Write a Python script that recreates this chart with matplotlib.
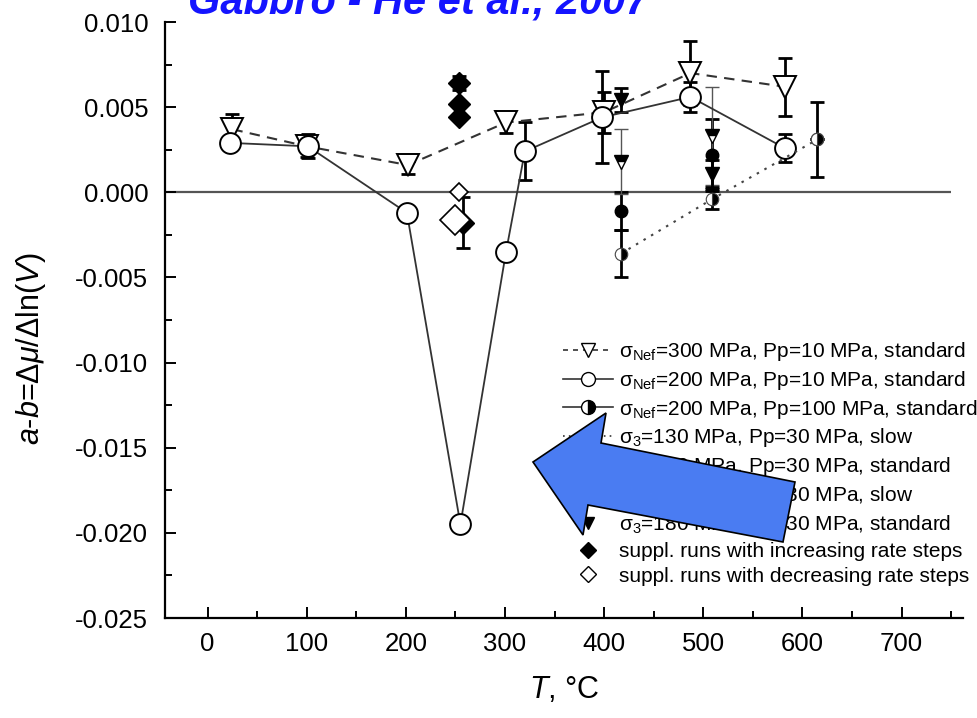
import matplotlib
matplotlib.use('Agg')
import matplotlib.pyplot as plt
from matplotlib.lines import Line2D
from matplotlib.patches import Polygon
from matplotlib.ticker import MultipleLocator, FuncFormatter

plt.rcParams['font.family'] = ['Liberation Sans', 'DejaVu Sans']
plt.rcParams['mathtext.fontset'] = 'custom'
plt.rcParams['mathtext.rm'] = 'Liberation Sans'
plt.rcParams['mathtext.it'] = 'Liberation Sans:italic'
plt.rcParams['mathtext.bf'] = 'Liberation Sans:bold'

# ---------------- data ----------------
T_300 = [25, 100, 202, 301, 400, 487, 582]
ab_300 = [0.0037, 0.0027, 0.0016, 0.0041, 0.0047, 0.0070, 0.0062]
err_300 = [0.0009, 0.0006, 0.0005, 0.0006, 0.0012, 0.0019, 0.0017]

T_200 = [23, 101, 201, 255, 301, 320, 398, 487, 582]
ab_200 = [0.0029, 0.0027, -0.0012, -0.0195, -0.0035, 0.0024, 0.0044, 0.0056, 0.0026]
err_200 = [0.0, 0.0007, 0.0003, 0.0, 0.0, 0.0017, 0.0027, 0.0009, 0.0008]

T_200pp100 = [615]
ab_200pp100 = [0.0031]
err_200pp100 = [0.0022]

T_130slow = [417, 509, 615]
ab_130slow = [-0.0036, -0.0004, 0.0031]
err_130slow = [0.0014, 0.0006, 0.0]

T_130std = [417, 509]
ab_130std = [-0.0011, 0.0022]
err_130std = [0.0011, 0.0021]

T_180slow = [417, 509]
ab_180slow = [0.0018, 0.0033]
err_180slow = [0.0019, 0.0029]

T_180std = [417, 509]
ab_180std = [0.0054, 0.0011]
err_180std = [0.0007, 0.0008]

T_inc = [254, 254, 254, 258]
ab_inc = [0.0064, 0.0052, 0.0044, -0.0018]
err_inc = [0.0004, 0.0, 0.0, 0.0015]

T_dec = [254, 250]
ab_dec = [0.0000, -0.0016]

legend_labels = [
    'σ$_{\\rm Nef}$=300 MPa, Pp=10 MPa, standard',
    'σ$_{\\rm Nef}$=200 MPa, Pp=10 MPa, standard',
    'σ$_{\\rm Nef}$=200 MPa, Pp=100 MPa, standard',
    'σ$_{\\rm 3}$=130 MPa, Pp=30 MPa, slow',
    'σ$_{\\rm 3}$=130 MPa, Pp=30 MPa, standard',
    'σ$_{\\rm 3}$=180 MPa, Pp=30 MPa, slow',
    'σ$_{\\rm 3}$=180 MPa, Pp=30 MPa, standard',
    'suppl. runs with increasing rate steps',
    'suppl. runs with decreasing rate steps',
]
title_text = 'Gabbro - He et al., 2007'
x_label = '$T$, °C'
y_label = '$a$-$b$=Δ$\\mu$/Δln($V$)'

# ---------------- figure ----------------
W, H = 978, 718
fig = plt.figure(figsize=(W / 100, H / 100), dpi=100)
ax = fig.add_axes([165 / W, 1 - 618 / H, 798 / W, 596 / H])
ax.set_xlim(-43, 762)
ax.set_ylim(-0.025, 0.010)

for s in ['top', 'right']:
    ax.spines[s].set_visible(False)
for s in ['left', 'bottom']:
    ax.spines[s].set_linewidth(1.6)

ax.xaxis.set_major_locator(MultipleLocator(100))
ax.xaxis.set_minor_locator(MultipleLocator(50))
ax.yaxis.set_major_locator(MultipleLocator(0.005))
ax.yaxis.set_minor_locator(MultipleLocator(0.0025))
ax.yaxis.set_major_formatter(FuncFormatter(lambda v, p: '0.000' if abs(v) < 1e-9 else f'{v:.3f}'))
ax.tick_params(which='both', direction='in', width=1.4)
ax.tick_params(which='major', length=8)
ax.tick_params(which='minor', length=5)
ax.tick_params(axis='y', labelsize=18.5, pad=12)
ax.tick_params(axis='x', labelsize=18.5, pad=10)

ax.hlines(0, -43, 750, color='#555555', lw=1.6, zorder=1)

ebk = dict(fmt='none', ecolor='black', elinewidth=2.0, capsize=5, capthick=2.0, zorder=2)
ebthin = dict(fmt='none', ecolor='#555555', elinewidth=1.0, capsize=5, capthick=1.0, zorder=2)

# sigma_Nef = 300, Pp = 10 (dashed, open down-triangles)
ax.errorbar(T_300, ab_300, yerr=err_300, **ebk)
ax.plot(T_300, ab_300, ls=(0, (5, 3.5)), color='#333333', lw=1.5, marker='v',
        mfc='white', mec='black', mew=1.4, ms=16, zorder=3)

# sigma_Nef = 200, Pp = 10 (solid, open circles)
ax.errorbar(T_200, ab_200, yerr=err_200, **ebk)
ax.plot(T_200, ab_200, ls='-', color='#333333', lw=1.3, marker='o',
        mfc='white', mec='black', mew=1.4, ms=15, zorder=4)

# sigma_Nef = 200, Pp = 100
ax.errorbar(T_200pp100, ab_200pp100, yerr=err_200pp100, **ebk)
ax.plot(T_200pp100, ab_200pp100, ls='-', color='black', lw=1.3, marker='o',
        fillstyle='right', mfc='black', markerfacecoloralt='white', mec='#444444',
        mew=0.8, ms=9, zorder=5)

# sigma_3 = 130, slow (dotted, half-filled circles)
ax.errorbar(T_130slow, ab_130slow, yerr=err_130slow, **ebk)
ax.plot(T_130slow, ab_130slow, ls=(0, (1.2, 3)), color='#444444', lw=1.5, marker='o',
        fillstyle='right', mfc='black', markerfacecoloralt='white', mec='#444444',
        mew=0.8, ms=9, zorder=5)

# sigma_3 = 130, standard (filled circles)
ax.errorbar(T_130std, ab_130std, yerr=err_130std, **ebk)
ax.plot(T_130std, ab_130std, ls='none', marker='o', mfc='black', mec='black', ms=9, zorder=5)

# sigma_3 = 180, slow (open down-triangles, thin error bars)
ax.errorbar(T_180slow, ab_180slow, yerr=err_180slow, **ebthin)
ax.plot(T_180slow, ab_180slow, ls='none', marker='v', fillstyle='top', mfc='black',
        markerfacecoloralt='white', mec='black', mew=1.0, ms=10, zorder=5)

# sigma_3 = 180, standard (filled down-triangles)
ax.errorbar(T_180std, ab_180std, yerr=err_180std, **ebk)
ax.plot(T_180std, ab_180std, ls='none', marker='v', mfc='black', mec='black', ms=10, zorder=5)

# supplementary runs
ax.errorbar(T_inc, ab_inc, yerr=err_inc, **ebk)
ax.plot(T_inc, ab_inc, ls='none', marker='D', mfc='black', mec='black', ms=11, zorder=5)
dec_sizes = [9, 15]
for t, v, s in zip(T_dec, ab_dec, dec_sizes):
    ax.plot([t], [v], ls='none', marker='D', mfc='white', mec='black', mew=1.2, ms=s, zorder=6)

# axis labels
ax.set_xlabel(x_label, fontsize=22, labelpad=14)
fig.text(31 / W, 1 - 349 / H, y_label, rotation=90, fontsize=22, ha='center', va='center')

# legend
handles = [
    Line2D([], [], ls=(0, (3, 3)), color='#333333', lw=1.2, marker='v', mfc='white', mec='black', ms=10),
    Line2D([], [], ls='-', color='#333333', lw=1.2, marker='o', mfc='white', mec='black', ms=10),
    Line2D([], [], ls='-', color='#333333', lw=1.2, marker='o', fillstyle='right', mfc='black',
           markerfacecoloralt='white', mec='black', ms=10),
    Line2D([], [], ls=(0, (1, 2.5)), color='#333333', lw=1.2, marker='o', fillstyle='right', mfc='black',
           markerfacecoloralt='white', mec='black', ms=8),
    Line2D([], [], ls='none', marker='o', mfc='black', mec='black', ms=8),
    Line2D([], [], ls='none', marker='v', fillstyle='top', mfc='black', markerfacecoloralt='white',
           mec='black', ms=9),
    Line2D([], [], ls='none', marker='v', mfc='black', mec='black', ms=9),
    Line2D([], [], ls='none', marker='D', mfc='black', mec='black', ms=8),
    Line2D([], [], ls='none', marker='D', mfc='white', mec='black', ms=8),
]
leg = ax.legend(handles, legend_labels, loc='upper left',
                bbox_to_anchor=(563 / W, 1 - 340 / H), bbox_transform=fig.transFigure,
                frameon=False, fontsize=15, handlelength=2.4, handletextpad=0.3,
                labelspacing=0.28, borderpad=0, borderaxespad=0)

# title (cropped at top, as in the reference)
fig.text(418 / W, 1 - 13 / H, title_text, color='#1414ff', fontsize=30,
         fontweight='bold', style='italic', ha='center', va='baseline')

# blue arrow
arrow_px = [(533, 462), (606, 413), (601, 443), (795, 482), (783, 542), (588, 505), (583, 535)]
arrow_fig = [(x / W, 1 - y / H) for x, y in arrow_px]
fig.patches.append(Polygon(arrow_fig, closed=True, transform=fig.transFigure,
                           facecolor='#4a7cf2', edgecolor='black', lw=1.2, zorder=10))

fig.savefig('out.png', dpi=100)
